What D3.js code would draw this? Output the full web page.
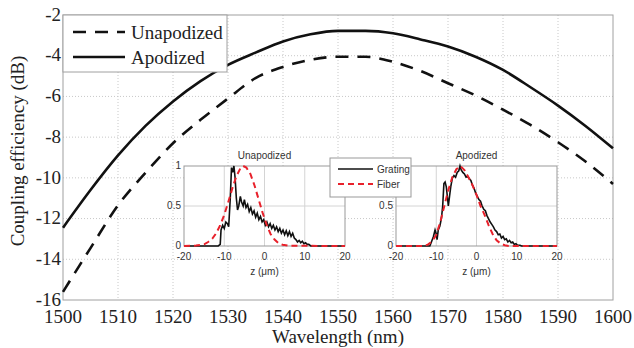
<!DOCTYPE html>
<html>
<head>
<meta charset="utf-8">
<script src="https://cdn.jsdelivr.net/npm/d3@7"></script>
<style>
  html, body { margin: 0; padding: 0; background: #fff; }
  svg { display: block; }
</style>
</head>
<body>
<div id="chart"></div>
<script>
// main plot data (coupling efficiency vs wavelength)
const wavelengths = [1500, 1505, 1510, 1515, 1520, 1525, 1530, 1535, 1540, 1545, 1550,
  1555, 1560, 1565, 1570, 1575, 1580, 1585, 1590, 1595, 1600];
const apodized = [-12.45, -10.6, -8.9, -7.45, -6.25, -5.25, -4.45, -3.85, -3.3, -2.95, -2.78,
  -2.78, -2.9, -3.2, -3.55, -4.05, -4.7, -5.55, -6.45, -7.45, -8.55];
const unapodized = [-15.6, -13.45, -11.35, -9.75, -8.3, -7.15, -6.1, -5.1, -4.55, -4.2, -4.05,
  -4.05, -4.3, -4.75, -5.35, -5.95, -6.65, -7.4, -8.25, -9.2, -10.3];
const xTicks = [1500, 1510, 1520, 1530, 1540, 1550, 1560, 1570, 1580, 1590, 1600];
const yTicks = [-2, -4, -6, -8, -10, -12, -14, -16];

// inset data: field profiles [z (um), normalized amplitude]
const unapGrating = [[-20, 0], [-11.5, 0], [-11, 0.02], [-10.8, 0.2], [-10.4, 0.26], [-10, 0.22],
  [-9.6, 0.3], [-9.2, 0.28], [-8.9, 0.24], [-8.5, 0.6], [-8.2, 0.98], [-7.9, 0.92], [-7.6, 1.0],
  [-7.3, 0.85], [-7.0, 0.6], [-6.7, 0.45], [-6.4, 0.5], [-6.0, 0.62], [-5.7, 0.55], [-5.3, 0.5],
  [-5.0, 0.58], [-4.6, 0.48], [-4.2, 0.52], [-3.8, 0.43], [-3.4, 0.48], [-3.0, 0.4], [-2.6, 0.44],
  [-2.2, 0.36], [-1.8, 0.41], [-1.4, 0.33], [-1.0, 0.37], [-0.6, 0.3], [-0.2, 0.33], [0.2, 0.26],
  [0.6, 0.3], [1.0, 0.24], [1.4, 0.28], [1.8, 0.22], [2.2, 0.26], [2.6, 0.2], [3.0, 0.24],
  [3.4, 0.18], [3.8, 0.22], [4.2, 0.16], [4.6, 0.2], [5.0, 0.14], [5.4, 0.19], [5.8, 0.13],
  [6.2, 0.18], [6.6, 0.12], [7.0, 0.16], [7.4, 0.1], [7.8, 0.08], [8.2, 0.05], [8.6, 0.07],
  [9.0, 0.04], [9.4, 0.06], [9.8, 0.03], [10.2, 0.04], [10.6, 0.02], [11.0, 0.02], [11.5, 0], [20, 0]];
const unapFiber = [[-20, 0], [-17, 0.005], [-15, 0.02], [-14, 0.05], [-13, 0.09], [-12, 0.16],
  [-11, 0.26], [-10, 0.39], [-9, 0.55], [-8, 0.72], [-7, 0.87], [-6, 0.97], [-5.3, 1.0],
  [-4.5, 0.98], [-3.5, 0.9], [-2.5, 0.76], [-1.5, 0.59], [-0.5, 0.42], [0.5, 0.27], [1.5, 0.15],
  [2.5, 0.08], [3.5, 0.035], [4.5, 0.015], [6, 0.003], [20, 0]];
const apGrating = [[-20, 0], [-11.6, 0], [-11.2, 0.05], [-10.7, 0.12], [-10.3, 0.2], [-10.0, 0.15],
  [-9.8, 0.08], [-9.5, 0.2], [-9.1, 0.25], [-8.7, 0.35], [-8.4, 0.5], [-8.1, 0.78], [-7.8, 0.8],
  [-7.5, 0.74], [-7.2, 0.6], [-7.0, 0.5], [-6.7, 0.62], [-6.4, 0.74], [-6.0, 0.85], [-5.6, 0.88],
  [-5.2, 0.86], [-4.8, 0.92], [-4.4, 0.94], [-4.1, 1.0], [-3.8, 0.95], [-3.4, 0.92], [-3.0, 0.9],
  [-2.6, 0.86], [-2.2, 0.87], [-1.8, 0.84], [-1.4, 0.82], [-1.0, 0.76], [-0.6, 0.72], [-0.2, 0.66],
  [0.2, 0.62], [0.6, 0.58], [1.0, 0.56], [1.4, 0.5], [1.8, 0.46], [2.2, 0.44], [2.6, 0.38],
  [3.0, 0.34], [3.4, 0.3], [3.8, 0.27], [4.2, 0.24], [4.6, 0.2], [5.0, 0.18], [5.4, 0.14],
  [5.8, 0.15], [6.2, 0.1], [6.6, 0.12], [7.0, 0.08], [7.4, 0.09], [7.8, 0.05], [8.2, 0.07],
  [8.6, 0.04], [9.0, 0.05], [9.4, 0.02], [9.8, 0.03], [10.2, 0.01], [10.8, 0.01], [11.2, 0], [20, 0]];
const apFiber = [[-20, 0], [-13, 0], [-12, 0.02], [-11, 0.06], [-10, 0.14], [-9, 0.3], [-8, 0.5],
  [-7, 0.7], [-6, 0.86], [-5, 0.96], [-4, 1.0], [-3, 0.95], [-2, 0.86], [-1, 0.76], [0, 0.64],
  [1, 0.5], [2, 0.39], [3, 0.26], [4, 0.15], [5, 0.07], [6, 0.03], [7, 0.01], [8, 0], [20, 0]];
const zTicks = [-20, -10, 0, 10, 20];
const ampTicks = [0, 0.5, 1];

const width = 634, height = 348;
const serif = "'Liberation Serif', 'Times New Roman', serif";
const sans = "'Liberation Sans', Arial, sans-serif";
const red = "#e8212b";

const svg = d3.select("#chart").append("svg")
  .attr("width", width)
  .attr("height", height);

// main axes
const mLeft = 63, mRight = 613, mTop = 15, mBottom = 300;
const x = d3.scaleLinear().domain([1500, 1600]).range([mLeft, mRight]);
const y = d3.scaleLinear().domain([-16, -2]).range([mBottom, mTop]);

// dotted grid
const grid = svg.append("g")
  .attr("stroke", "#c8c8c8")
  .attr("stroke-width", 1)
  .attr("stroke-dasharray", "1,2");
grid.selectAll("line.gx")
  .data(xTicks.slice(1, -1))
  .enter().append("line")
  .attr("x1", d => x(d)).attr("x2", d => x(d))
  .attr("y1", mTop).attr("y2", mBottom);
grid.selectAll("line.gy")
  .data(yTicks.slice(1, -1))
  .enter().append("line")
  .attr("x1", mLeft).attr("x2", mRight)
  .attr("y1", d => y(d)).attr("y2", d => y(d));

// frame
svg.append("rect")
  .attr("x", mLeft).attr("y", mTop)
  .attr("width", mRight - mLeft).attr("height", mBottom - mTop)
  .attr("fill", "none")
  .attr("stroke", "#a0a0a0")
  .attr("stroke-width", 1);

// tick labels
svg.append("g")
  .attr("font-family", serif)
  .attr("font-size", 19)
  .attr("fill", "#222")
  .attr("text-anchor", "end")
  .selectAll("text")
  .data(yTicks)
  .enter().append("text")
  .attr("x", mLeft - 2)
  .attr("y", d => y(d))
  .attr("dy", "0.3em")
  .text(d => d);

svg.append("g")
  .attr("font-family", serif)
  .attr("font-size", 19)
  .attr("fill", "#222")
  .attr("text-anchor", "middle")
  .selectAll("text")
  .data(xTicks)
  .enter().append("text")
  .attr("x", d => x(d))
  .attr("y", 323)
  .text(d => d);

// axis titles
svg.append("text")
  .attr("x", 338).attr("y", 343)
  .attr("text-anchor", "middle")
  .attr("font-family", serif)
  .attr("font-size", 19)
  .attr("fill", "#222")
  .text("Wavelength (nm)");

svg.append("text")
  .attr("transform", "translate(24,151) rotate(-90)")
  .attr("text-anchor", "middle")
  .attr("font-family", serif)
  .attr("font-size", 19)
  .attr("fill", "#222")
  .text("Coupling efficiency (dB)");

// main curves
const mainLine = d3.line()
  .x(d => x(d[0]))
  .y(d => y(d[1]))
  .curve(d3.curveMonotoneX);

svg.append("path")
  .datum(wavelengths.map((w, i) => [w, apodized[i]]))
  .attr("d", mainLine)
  .attr("fill", "none")
  .attr("stroke", "#111")
  .attr("stroke-width", 2.6);

svg.append("path")
  .datum(wavelengths.map((w, i) => [w, unapodized[i]]))
  .attr("d", mainLine)
  .attr("fill", "none")
  .attr("stroke", "#111")
  .attr("stroke-width", 2.6)
  .attr("stroke-dasharray", "13,9");

// main legend
const legend = svg.append("g");
legend.append("rect")
  .attr("x", mLeft).attr("y", mTop)
  .attr("width", 164).attr("height", 57)
  .attr("fill", "#fff")
  .attr("stroke", "#a0a0a0");
const legendItems = [
  { label: "Unapodized", dash: "13,9", yy: 32 },
  { label: "Apodized", dash: null, yy: 57 }
];
legendItems.forEach(it => {
  legend.append("line")
    .attr("x1", 73).attr("x2", 125)
    .attr("y1", it.yy).attr("y2", it.yy)
    .attr("stroke", "#111")
    .attr("stroke-width", 2.6)
    .attr("stroke-dasharray", it.dash);
  legend.append("text")
    .attr("x", 131).attr("y", it.yy)
    .attr("dy", "0.35em")
    .attr("font-family", serif)
    .attr("font-size", 19)
    .attr("fill", "#222")
    .text(it.label);
});

// insets
function drawInset(x0, x1, title, grating, fiber, yLabels) {
  const y0 = 246, y1 = 166;
  const ix = d3.scaleLinear().domain([-20, 20]).range([x0, x1]);
  const iy = d3.scaleLinear().domain([0, 1]).range([y0, y1]);
  const g = svg.append("g");

  g.append("rect")
    .attr("x", x0).attr("y", y1)
    .attr("width", x1 - x0).attr("height", y0 - y1)
    .attr("fill", "#fff");

  g.selectAll("line.gx")
    .data(zTicks.slice(1, -1))
    .enter().append("line")
    .attr("x1", d => ix(d)).attr("x2", d => ix(d))
    .attr("y1", y1).attr("y2", y0)
    .attr("stroke", "#d4d4d4");
  g.selectAll("line.gy")
    .data([0.5])
    .enter().append("line")
    .attr("x1", x0).attr("x2", x1)
    .attr("y1", d => iy(d)).attr("y2", d => iy(d))
    .attr("stroke", "#d4d4d4");

  g.append("rect")
    .attr("x", x0).attr("y", y1)
    .attr("width", x1 - x0).attr("height", y0 - y1)
    .attr("fill", "none")
    .attr("stroke", "#999");

  const ln = d3.line().x(d => ix(d[0])).y(d => iy(d[1]));
  g.append("path")
    .datum(grating)
    .attr("d", ln)
    .attr("fill", "none")
    .attr("stroke", "#111")
    .attr("stroke-width", 1.6);
  g.append("path")
    .datum(fiber)
    .attr("d", ln)
    .attr("fill", "none")
    .attr("stroke", red)
    .attr("stroke-width", 2)
    .attr("stroke-dasharray", "6,4");

  g.selectAll("text.tx")
    .data(zTicks)
    .enter().append("text")
    .attr("x", d => ix(d))
    .attr("y", y0 + 14)
    .attr("text-anchor", "middle")
    .attr("font-family", sans)
    .attr("font-size", 10)
    .attr("fill", "#333")
    .text(d => d);
  g.selectAll("text.ty")
    .data(yLabels)
    .enter().append("text")
    .attr("x", x0 - 3)
    .attr("y", d => iy(d))
    .attr("dy", "0.3em")
    .attr("text-anchor", "end")
    .attr("font-family", sans)
    .attr("font-size", 10)
    .attr("fill", "#333")
    .text(d => d);

  g.append("text")
    .attr("x", (x0 + x1) / 2).attr("y", 275)
    .attr("text-anchor", "middle")
    .attr("font-family", sans)
    .attr("font-size", 10)
    .attr("fill", "#333")
    .text("z (\u03bcm)");
  g.append("text")
    .attr("x", (x0 + x1) / 2).attr("y", 159)
    .attr("text-anchor", "middle")
    .attr("font-family", sans)
    .attr("font-size", 10)
    .attr("fill", "#333")
    .text(title);
}

drawInset(184, 345, "Unapodized", unapGrating, unapFiber, ampTicks);
// the "1" label of the second inset sits under the legend box
drawInset(396, 557, "Apodized", apGrating, apFiber, ampTicks.slice(0, 2));

// inset legend
const il = svg.append("g");
il.append("rect")
  .attr("x", 330).attr("y", 158)
  .attr("width", 81).attr("height", 39)
  .attr("fill", "#fff")
  .attr("stroke", "#999");
il.append("line")
  .attr("x1", 338).attr("x2", 373)
  .attr("y1", 169).attr("y2", 169)
  .attr("stroke", "#111").attr("stroke-width", 1.6);
il.append("line")
  .attr("x1", 338).attr("x2", 373)
  .attr("y1", 184).attr("y2", 184)
  .attr("stroke", red).attr("stroke-width", 2)
  .attr("stroke-dasharray", "6,4");
il.append("text")
  .attr("x", 377).attr("y", 169).attr("dy", "0.35em")
  .attr("font-family", sans).attr("font-size", 10).attr("fill", "#333")
  .text("Grating");
il.append("text")
  .attr("x", 377).attr("y", 184).attr("dy", "0.35em")
  .attr("font-family", sans).attr("font-size", 10).attr("fill", "#333")
  .text("Fiber");
</script>
</body>
</html>
